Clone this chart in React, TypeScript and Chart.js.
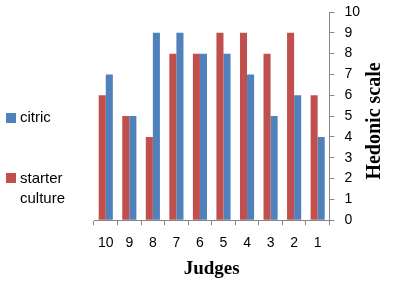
import React, { useEffect, useRef } from "react";
import { Chart, registerables } from "chart.js";

Chart.register(...registerables);

const judges = ["10", "9", "8", "7", "6", "5", "4", "3", "2", "1"];
const starterCulture = [6, 5, 4, 8, 8, 9, 9, 8, 9, 6];
const citric = [7, 5, 9, 9, 8, 8, 7, 5, 6, 4];
const yTitle = "Hedonic scale";
const xTitle = "Judges";

const RED = "#C0504D";
const BLUE = "#4F81BD";
const AXIS = "#868686";

const titlesPlugin = {
  id: "titlesCustom",
  afterDraw(chart: any) {
    const { ctx, chartArea } = chart;
    ctx.save();
    ctx.fillStyle = "#000";
    ctx.textAlign = "center";
    ctx.textBaseline = "middle";
    ctx.font = "bold 19px 'Liberation Serif'";
    ctx.fillText(xTitle, (chartArea.left + chartArea.right) / 2, 269);
    ctx.translate(375, 121);
    ctx.rotate(-Math.PI / 2);
    ctx.font = "bold 20px 'Liberation Serif'";
    ctx.fillText(yTitle, 0, 0);
    ctx.restore();
  },
};

export default function App() {
  const ref = useRef<HTMLCanvasElement>(null);

  useEffect(() => {
    document.body.style.margin = "0";
    const chart = new Chart(ref.current!, {
      type: "bar",
      data: {
        labels: judges,
        datasets: [
          {
            label: "starter culture",
            data: starterCulture,
            backgroundColor: RED,
            categoryPercentage: 0.6,
            barPercentage: 1,
          },
          {
            label: "citric",
            data: citric,
            backgroundColor: BLUE,
            categoryPercentage: 0.6,
            barPercentage: 1,
          },
        ],
      },
      options: {
        animation: false,
        responsive: true,
        maintainAspectRatio: false,
        layout: { padding: { left: 94, right: 23, top: 12, bottom: 24 } },
        plugins: { legend: { display: false }, tooltip: { enabled: false } },
        scales: {
          x: {
            grid: {
              display: true,
              drawOnChartArea: false,
              drawTicks: true,
              tickLength: 5,
              color: AXIS,
              offset: true,
            },
            border: { color: AXIS },
            ticks: {
              color: "#000",
              font: { family: "'Liberation Sans'", size: 14 },
              padding: 10,
              maxRotation: 0,
              autoSkip: false,
            },
          },
          y: {
            position: "right",
            min: 0,
            max: 10,
            grid: {
              display: true,
              drawOnChartArea: false,
              drawTicks: true,
              tickLength: 5,
              color: AXIS,
            },
            border: { color: AXIS },
            ticks: {
              stepSize: 1,
              autoSkip: false,
              color: "#000",
              font: { family: "'Liberation Sans'", size: 14, lineHeight: 0.2 },
              padding: 10,
            },
          },
        },
      },
      plugins: [titlesPlugin],
    });
    return () => chart.destroy();
  }, []);

  const legendText: React.CSSProperties = {
    position: "absolute",
    left: 20,
    font: "15px 'Liberation Sans'",
    color: "#000",
    lineHeight: "20px",
  };
  const sq: React.CSSProperties = {
    position: "absolute",
    left: 6,
    width: 10,
    height: 10,
  };

  return (
    <div style={{ position: "relative", width: 393, height: 286 }}>
      <canvas ref={ref} />
      <div style={{ ...sq, top: 113, background: BLUE }} />
      <div style={{ ...legendText, top: 107 }}>citric</div>
      <div style={{ ...sq, top: 173, background: RED }} />
      <div style={{ ...legendText, top: 168 }}>
        starter
        <br />
        culture
      </div>
    </div>
  );
}
